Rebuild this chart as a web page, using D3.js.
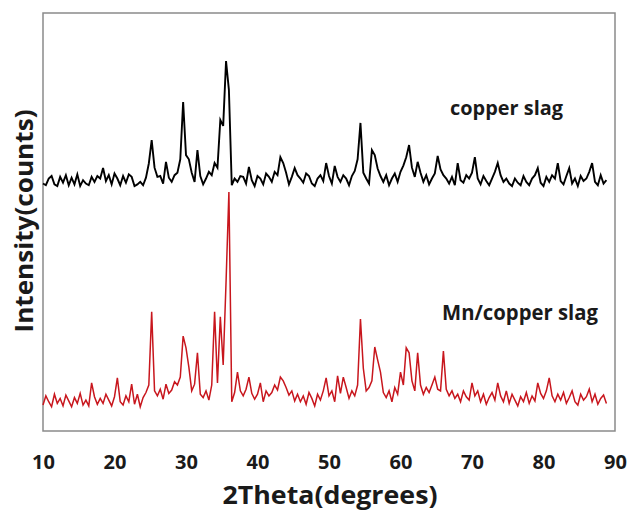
<!DOCTYPE html>
<html>
<head>
<meta charset="utf-8">
<script src="https://cdn.jsdelivr.net/npm/d3@7/dist/d3.min.js"></script>
<style>
  html, body { margin: 0; padding: 0; background: #ffffff; }
  svg { display: block; }
  text { font-family: "Open Sans", "Noto Sans", sans-serif; font-weight: 700; fill: #1a1a1a; }
</style>
</head>
<body>
<svg id="chart" width="630" height="510"></svg>
<script>
// 2Theta grid (degrees), 0.4 step
const twoTheta = [
  10.0,10.4,10.8,11.2,11.6,12.0,12.4,12.8,13.2,13.6,
  14.0,14.4,14.8,15.2,15.6,16.0,16.4,16.8,17.2,17.6,
  18.0,18.4,18.8,19.2,19.6,20.0,20.4,20.8,21.2,21.6,
  22.0,22.4,22.8,23.2,23.6,24.0,24.4,24.8,25.2,25.6,
  26.0,26.4,26.8,27.2,27.6,28.0,28.4,28.8,29.2,29.6,
  30.0,30.4,30.8,31.2,31.6,32.0,32.4,32.8,33.2,33.6,
  34.0,34.4,34.8,35.2,35.6,36.0,36.4,36.8,37.2,37.6,
  38.0,38.4,38.8,39.2,39.6,40.0,40.4,40.8,41.2,41.6,
  42.0,42.4,42.8,43.2,43.6,44.0,44.4,44.8,45.2,45.6,
  46.0,46.4,46.8,47.2,47.6,48.0,48.4,48.8,49.2,49.6,
  50.0,50.4,50.8,51.2,51.6,52.0,52.4,52.8,53.2,53.6,
  54.0,54.4,54.8,55.2,55.6,56.0,56.4,56.8,57.2,57.6,
  58.0,58.4,58.8,59.2,59.6,60.0,60.4,60.8,61.2,61.6,
  62.0,62.4,62.8,63.2,63.6,64.0,64.4,64.8,65.2,65.6,
  66.0,66.4,66.8,67.2,67.6,68.0,68.4,68.8,69.2,69.6,
  70.0,70.4,70.8,71.2,71.6,72.0,72.4,72.8,73.2,73.6,
  74.0,74.4,74.8,75.2,75.6,76.0,76.4,76.8,77.2,77.6,
  78.0,78.4,78.8,79.2,79.6,80.0,80.4,80.8,81.2,81.6,
  82.0,82.4,82.8,83.2,83.6,84.0,84.4,84.8,85.2,85.6,
  86.0,86.4,86.8,87.2,87.6,88.0,88.4,88.8
];

// copper slag intensity (counts, before stacking offset)
const copperSlag = [
  92,88,104,110,90,86,108,94,112,88,
  106,90,114,86,100,92,88,108,96,110,
  104,129,98,112,90,116,104,88,110,94,
  114,108,86,90,96,88,106,140,196,130,
  108,110,92,144,106,96,112,118,150,287,
  160,150,118,96,172,110,90,104,120,112,
  141,130,244,230,385,316,88,104,96,110,
  108,92,132,100,86,110,104,90,116,108,
  96,120,112,155,141,118,90,108,129,112,
  104,94,116,110,92,86,104,112,98,141,
  110,92,134,108,96,112,104,88,110,122,
  150,237,118,104,92,172,160,128,110,96,
  112,88,104,116,96,120,135,155,184,130,
  108,144,118,96,112,90,104,116,158,126,
  112,104,92,108,88,141,100,94,112,104,
  118,155,104,90,110,98,88,104,120,141,
  112,96,104,92,86,104,94,88,110,96,
  88,104,112,129,94,86,108,96,112,104,
  141,98,90,110,129,92,104,86,110,98,
  104,120,141,96,88,112,92,100
];

// Mn/copper slag intensity (counts)
const mnCopperSlag = [
  62,84,70,58,88,66,78,60,86,72,
  58,80,66,90,62,74,60,115,82,64,
  78,66,88,74,60,82,127,70,62,84,
  70,112,64,88,58,80,92,110,285,96,
  84,100,76,112,90,98,118,110,129,227,
  199,153,96,112,187,88,80,96,74,110,
  285,115,273,158,356,572,70,92,141,96,
  84,100,129,90,76,88,115,70,96,84,
  92,110,98,129,120,104,86,96,72,88,
  70,84,64,92,78,60,88,74,96,127,
  84,96,70,132,90,129,104,78,96,84,
  110,268,150,96,104,120,201,170,141,92,
  80,96,70,104,88,141,110,199,187,120,
  96,187,110,88,104,92,110,129,100,96,
  191,100,84,96,78,88,70,96,82,74,
  115,84,96,70,88,64,80,92,74,115,
  84,70,96,66,88,74,60,82,70,92,
  66,84,72,115,90,78,96,127,84,70,
  88,74,92,66,80,96,70,62,88,74,
  82,100,70,88,64,78,86,66
];

const xTicks = [10, 20, 30, 40, 50, 60, 70, 80, 90];
const seriesNames = ["copper slag", "Mn/copper slag"];
const seriesColors = ["#000000", "#c8161d"];
const stackOffsets = [500, 0];
const xTitle = "2Theta(degrees)";
const yTitle = "Intensity(counts)";

const svg = d3.select("#chart");
const frame = { left: 43, right: 615, top: 13, bottom: 431 };

const x = d3.scaleLinear().domain([10, 90]).range([frame.left, frame.right]);
const y = d3.scaleLinear().domain([0, 1000]).range([frame.bottom, frame.top]);

// frame
svg.append("rect")
  .attr("x", frame.left).attr("y", frame.top)
  .attr("width", frame.right - frame.left)
  .attr("height", frame.bottom - frame.top)
  .attr("fill", "none")
  .attr("stroke", "#8a8a8a")
  .attr("stroke-width", 1.5);

const seriesData = [copperSlag, mnCopperSlag];
seriesData.forEach((vals, si) => {
  const pts = twoTheta.map((t, i) => [t, vals[i] + stackOffsets[si]]);
  const line = d3.line().x(d => x(d[0])).y(d => y(d[1]));
  svg.append("path")
    .datum(pts)
    .attr("d", line)
    .attr("fill", "none")
    .attr("stroke", seriesColors[si])
    .attr("stroke-width", si === 0 ? 1.9 : 1.5)
    .attr("stroke-linejoin", "miter");
});

// x axis labels (no tick marks)
const xAxis = d3.axisBottom(x).tickValues(xTicks).tickSize(0).tickPadding(24)
  .tickFormat(d3.format("d"));
const gx = svg.append("g").attr("transform", `translate(0,${frame.bottom})`).call(xAxis);
gx.select(".domain").remove();
gx.selectAll("text")
  .attr("font-size", 20)
  .attr("font-family", "'Open Sans', sans-serif")
  .attr("font-weight", 700)
  .attr("fill", "#1a1a1a");

// axis titles
svg.append("text")
  .attr("x", 330).attr("y", 504)
  .attr("text-anchor", "middle")
  .attr("font-size", 25)
  .attr("textLength", 215)
  .attr("lengthAdjust", "spacingAndGlyphs")
  .text(xTitle);

svg.append("text")
  .attr("transform", "translate(33,221) rotate(-90)")
  .attr("text-anchor", "middle")
  .attr("font-size", 25)
  .attr("textLength", 223)
  .attr("lengthAdjust", "spacingAndGlyphs")
  .text(yTitle);

// series labels
svg.append("text")
  .attr("x", 450).attr("y", 115)
  .attr("font-size", 20)
  .attr("textLength", 113)
  .attr("lengthAdjust", "spacingAndGlyphs")
  .text(seriesNames[0]);

svg.append("text")
  .attr("x", 442).attr("y", 320)
  .attr("font-size", 21)
  .attr("textLength", 156)
  .attr("lengthAdjust", "spacingAndGlyphs")
  .text(seriesNames[1]);
</script>
</body>
</html>
